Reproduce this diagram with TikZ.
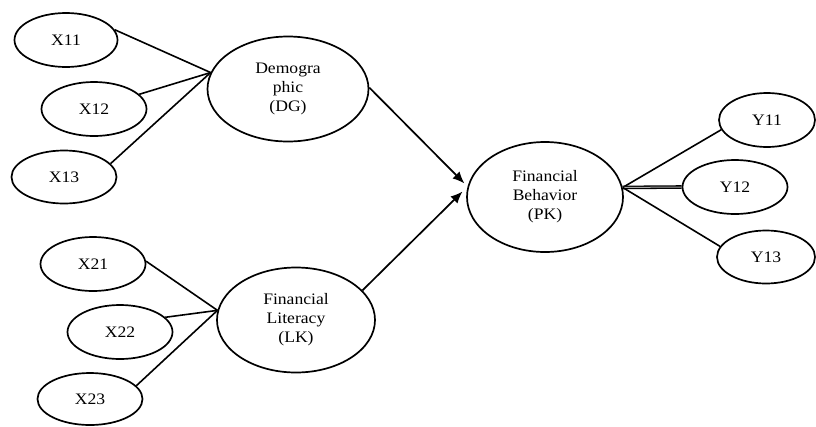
\documentclass[tikz,border=0pt]{standalone}
\usepackage{fontspec}
\setmainfont{Liberation Serif}[FakeStretch=1.1]
\usetikzlibrary{shapes.geometric,arrows.meta}
\begin{document}
\begin{tikzpicture}[x=1pt,y=-1pt,
  ind/.style={draw,ellipse,line width=1.7pt,inner sep=0pt,minimum width=105pt,minimum height=54pt,font=\fontsize{16}{19}\selectfont},
  lat/.style={draw,ellipse,line width=1.7pt,inner sep=0pt,align=center,font=\fontsize{16}{19}\selectfont},
  ln/.style={line width=1.6pt},
  arr/.style={line width=1.7pt,-{Latex[length=12pt,width=10pt]}}]
\useasboundingbox (0,0) rectangle (816,426);
% latent variables
\node[lat,minimum width=161pt,minimum height=105pt] (DG) at (288,89) {Demogra\\phic\\(DG)};
\node[lat,minimum width=158pt,minimum height=105pt] (LK) at (296,320) {Financial\\Literacy\\(LK)};
\node[lat,minimum width=156pt,minimum height=110pt] (PK) at (545,197) {Financial\\Behavior\\(PK)};
% indicators
\node[ind,minimum width=103pt] (X11) at (66,40) {X11};
\node[ind] (X12) at (94,109) {X12};
\node[ind,minimum height=53pt] (X13) at (64,177) {X13};
\node[ind] (X21) at (93,264) {X21};
\node[ind] (X22) at (120,332) {X22};
\node[ind,minimum height=52pt] (X23) at (90,399) {X23};
\node[ind,minimum width=96pt] (Y11) at (767,120) {Y11};
\node[ind] (Y12) at (735,187) {Y12};
\node[ind,minimum width=98pt,minimum height=53pt] (Y13) at (766,257) {Y13};
% meeting points
\coordinate (dgin) at (DG.168);
\coordinate (lkin) at (LK.173);
\coordinate (pkout) at (PK.7);
\coordinate (pkin1) at ([xshift=-4pt]PK.170);
\coordinate (pkin2) at ([xshift=-4pt]PK.176);
% connectors
\draw[ln] (X11.12) -- (dgin);
\draw[ln] (X12.18) -- (dgin);
\draw[ln] (X13.16) -- (dgin);
\draw[ln] (X21.3) -- (lkin);
\draw[ln] (X22.18) -- (lkin);
\draw[ln] (X23.16) -- (lkin);
\draw[ln] (pkout) -- (Y11.192);
\draw[line width=1.3pt,double=black!35,double distance=1pt] (pkout) -- (Y12.west);
\draw[ln] (pkout) -- (Y13.167);
\draw[arr] (DG.1) -- (pkin1);
\draw[arr] (LK.24) -- (pkin2);
\end{tikzpicture}
\end{document}
